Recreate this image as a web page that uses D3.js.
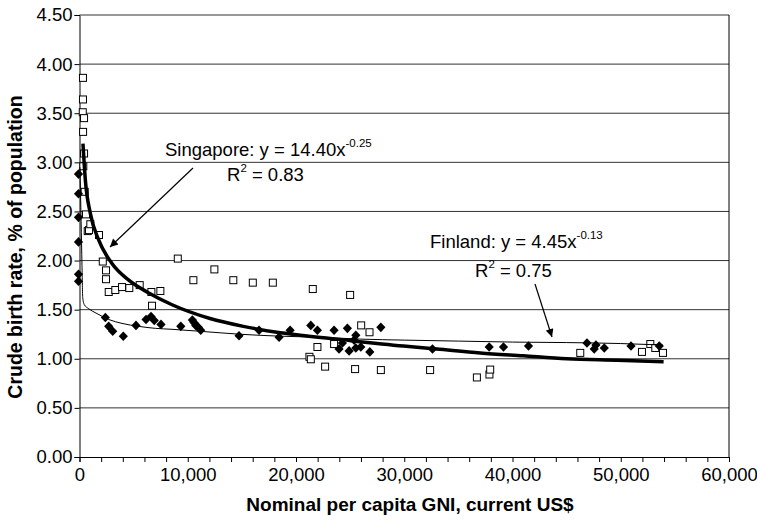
<!DOCTYPE html>
<html>
<head>
<meta charset="utf-8">
<script src="https://cdn.jsdelivr.net/npm/d3@7"></script>
<style>
  body { margin: 0; background: #fff; }
  text { font-family: "Liberation Sans", Arial, sans-serif; fill: #000; }
</style>
</head>
<body>
<svg id="chart" width="757" height="522"></svg>
<script>
// Singapore: open squares  [GNI US$, birth rate %]
var singapore = [
  [320, 3.86], [320, 3.64], [300, 3.51], [420, 3.45], [330, 3.31], [420, 3.09], [350, 2.96],
  [480, 2.70], [600, 2.47], [760, 2.30], [880, 2.31], [1000, 2.37], [1800, 2.26],
  [2150, 1.99], [2450, 1.90], [2450, 1.81], [2700, 1.68], [3310, 1.70], [3930, 1.73],
  [4600, 1.72], [5560, 1.75], [6640, 1.68], [7470, 1.69], [6700, 1.54], [9080, 2.02],
  [10520, 1.80], [12460, 1.91], [14210, 1.80], [16010, 1.775], [17860, 1.775],
  [21550, 1.71], [25000, 1.65], [26020, 1.34], [26790, 1.27], [21980, 1.12], [23520, 1.15],
  [21240, 1.02], [21370, 0.995], [22690, 0.92], [25460, 0.895], [27840, 0.885],
  [32390, 0.885], [36710, 0.81], [37870, 0.84], [37940, 0.89], [46260, 1.06],
  [51960, 1.07], [52730, 1.15], [53190, 1.11], [53900, 1.06]
];

// Finland: filled diamonds
var finland = [
  [0, 2.88], [0, 2.68], [0, 2.44], [0, 2.19], [0, 1.86], [0, 1.79],
  [2480, 1.42], [2790, 1.33], [3160, 1.28], [4140, 1.23], [5310, 1.34], [6240, 1.40],
  [6700, 1.43], [7000, 1.39], [7620, 1.35], [9450, 1.33], [10520, 1.395], [10670, 1.37],
  [10830, 1.34], [11070, 1.32], [11290, 1.29], [14830, 1.235], [16680, 1.29], [18530, 1.22],
  [19550, 1.29], [21460, 1.34], [22070, 1.29], [23610, 1.29], [24840, 1.31], [25620, 1.24],
  [25460, 1.19], [24070, 1.10], [25000, 1.08], [25620, 1.11], [26080, 1.12], [24380, 1.16],
  [26910, 1.07], [27930, 1.32], [32700, 1.10], [37940, 1.12], [39260, 1.12], [41570, 1.13],
  [46970, 1.16], [47800, 1.14], [47640, 1.10], [48570, 1.11], [51040, 1.13], [53650, 1.13]
];

// trend lines
var singaporeTrend = [
  [320, 3.19], [540, 2.82], [1000, 2.48], [1770, 2.21], [3000, 1.97], [4550, 1.80],
  [6400, 1.67], [8550, 1.55], [12060, 1.41], [15140, 1.33], [18220, 1.27], [20380, 1.24],
  [23770, 1.20], [29930, 1.13], [33010, 1.10], [37020, 1.06], [41000, 1.03], [45030, 1.00],
  [49650, 0.985], [53960, 0.97]
];
var finlandTrend = [
  [40, 2.95], [150, 2.40], [230, 1.95], [300, 1.62], [450, 1.55], [850, 1.51], [1620, 1.46],
  [2700, 1.40], [3930, 1.36], [5470, 1.33], [7000, 1.31], [8550, 1.30], [11140, 1.28],
  [14830, 1.25], [18530, 1.23], [22000, 1.22], [26000, 1.20], [30000, 1.19], [35000, 1.18],
  [40000, 1.17], [45000, 1.165], [50000, 1.155], [53900, 1.14]
];

var xTicks = [0, 10000, 20000, 30000, 40000, 50000, 60000];
var yTicks = [0, 0.5, 1, 1.5, 2, 2.5, 3, 3.5, 4, 4.5];

var svg = d3.select("#chart");
var plotLeft = 79.5, plotRight = 729, plotTop = 15, plotBottom = 457;

var x = d3.scaleLinear().domain([0, 60000]).range([plotLeft, plotRight]);
var y = d3.scaleLinear().domain([0, 4.5]).range([plotBottom, plotTop]);

// horizontal gridlines
svg.append("g").selectAll("line")
    .data(yTicks.slice(1))
    .enter().append("line")
    .attr("x1", plotLeft).attr("x2", plotRight)
    .attr("y1", function (d) { return y(d); })
    .attr("y2", function (d) { return y(d); })
    .style("stroke", "#333")
    .style("stroke-width", 1);

// right border
svg.append("line")
    .attr("x1", plotRight).attr("x2", plotRight)
    .attr("y1", plotTop).attr("y2", plotBottom)
    .style("stroke", "#000");

// y axis
var yAxis = d3.axisLeft(y).tickValues(yTicks).tickFormat(d3.format(".2f")).tickSize(5).tickPadding(2);
var gy = svg.append("g").attr("transform", "translate(" + plotLeft + ",0)").call(yAxis);
gy.selectAll("text").style("font-size", "18.5px");

// x axis, ticks every 2,000
var xAxis = d3.axisBottom(x).tickValues(d3.range(0, 60001, 2000)).tickSize(5)
    .tickFormat(function (d) { return xTicks.indexOf(d) >= 0 ? d3.format(",")(d) : ""; })
    .tickPadding(6);
var gx = svg.append("g").attr("transform", "translate(0," + plotBottom + ")").call(xAxis);
gx.selectAll("text").style("font-size", "18.5px");

svg.selectAll(".domain").style("stroke", "#000");
svg.selectAll(".tick line").style("stroke", "#000");

// squares
svg.append("g").selectAll("rect")
    .data(singapore)
    .enter().append("rect")
    .attr("x", function (d) { return x(d[0]) - 3.5; })
    .attr("y", function (d) { return y(d[1]) - 3.5; })
    .attr("width", 7)
    .attr("height", 7)
    .style("fill", "#fff")
    .style("stroke", "#000")
    .style("stroke-width", 1);

// diamonds
svg.append("g").selectAll("path")
    .data(finland)
    .enter().append("path")
    .attr("transform", function (d) { return "translate(" + (x(d[0]) - 1) + "," + y(d[1]) + ")"; })
    .attr("d", "M0,-4.8L4.6,0L0,4.8L-4.6,0Z")
    .style("fill", "#000");

var line = d3.line()
    .x(function (d) { return x(d[0]); })
    .y(function (d) { return y(d[1]); })
    .curve(d3.curveMonotoneX);

svg.append("path").datum(finlandTrend)
    .attr("d", line)
    .style("fill", "none").style("stroke", "#000").style("stroke-width", 1);

svg.append("path").datum(singaporeTrend)
    .attr("d", line)
    .style("fill", "none").style("stroke", "#000").style("stroke-width", 3.5);

// axis titles
svg.append("text")
    .attr("x", 410).attr("y", 511)
    .attr("text-anchor", "middle")
    .style("font-size", "19px").style("font-weight", "bold")
    .text("Nominal per capita GNI, current US$");

svg.append("text")
    .attr("transform", "translate(22,247) rotate(-90)")
    .attr("text-anchor", "middle")
    .style("font-size", "19.5px").style("font-weight", "bold")
    .text("Crude birth rate, % of population");

// annotations
svg.append("defs").append("marker")
    .attr("id", "arrow")
    .attr("viewBox", "0 0 10 10")
    .attr("refX", 10).attr("refY", 5)
    .attr("markerWidth", 10).attr("markerHeight", 8)
    .attr("markerUnits", "userSpaceOnUse")
    .attr("orient", "auto")
    .append("path")
    .attr("d", "M0,0L10,5L0,10Z")
    .style("fill", "#000");

function equation(px, py, name, coef, power) {
    var t = svg.append("text").attr("x", px).attr("y", py).style("font-size", "18.5px");
    t.append("tspan").text(name + ": y = " + coef + "x");
    t.append("tspan").attr("dy", -9).style("font-size", "11.5px").text(power);
}
function rsq(px, py, val) {
    var t = svg.append("text").attr("x", px).attr("y", py).style("font-size", "18.5px");
    t.append("tspan").text("R");
    t.append("tspan").attr("dy", -9).style("font-size", "11.5px").text("2");
    t.append("tspan").attr("dy", 9).text(" = " + val);
}

equation(165, 156, "Singapore", "14.40", "-0.25");
rsq(227, 181, "0.83");
equation(430, 248, "Finland", "4.45", "-0.13");
rsq(475, 277, "0.75");

svg.append("line")
    .attr("x1", 193).attr("y1", 168).attr("x2", 110).attr("y2", 247)
    .style("stroke", "#000").style("stroke-width", 1.2)
    .attr("marker-end", "url(#arrow)");

svg.append("line")
    .attr("x1", 535).attr("y1", 284).attr("x2", 552).attr("y2", 337)
    .style("stroke", "#000").style("stroke-width", 1.2)
    .attr("marker-end", "url(#arrow)");
</script>
</body>
</html>
